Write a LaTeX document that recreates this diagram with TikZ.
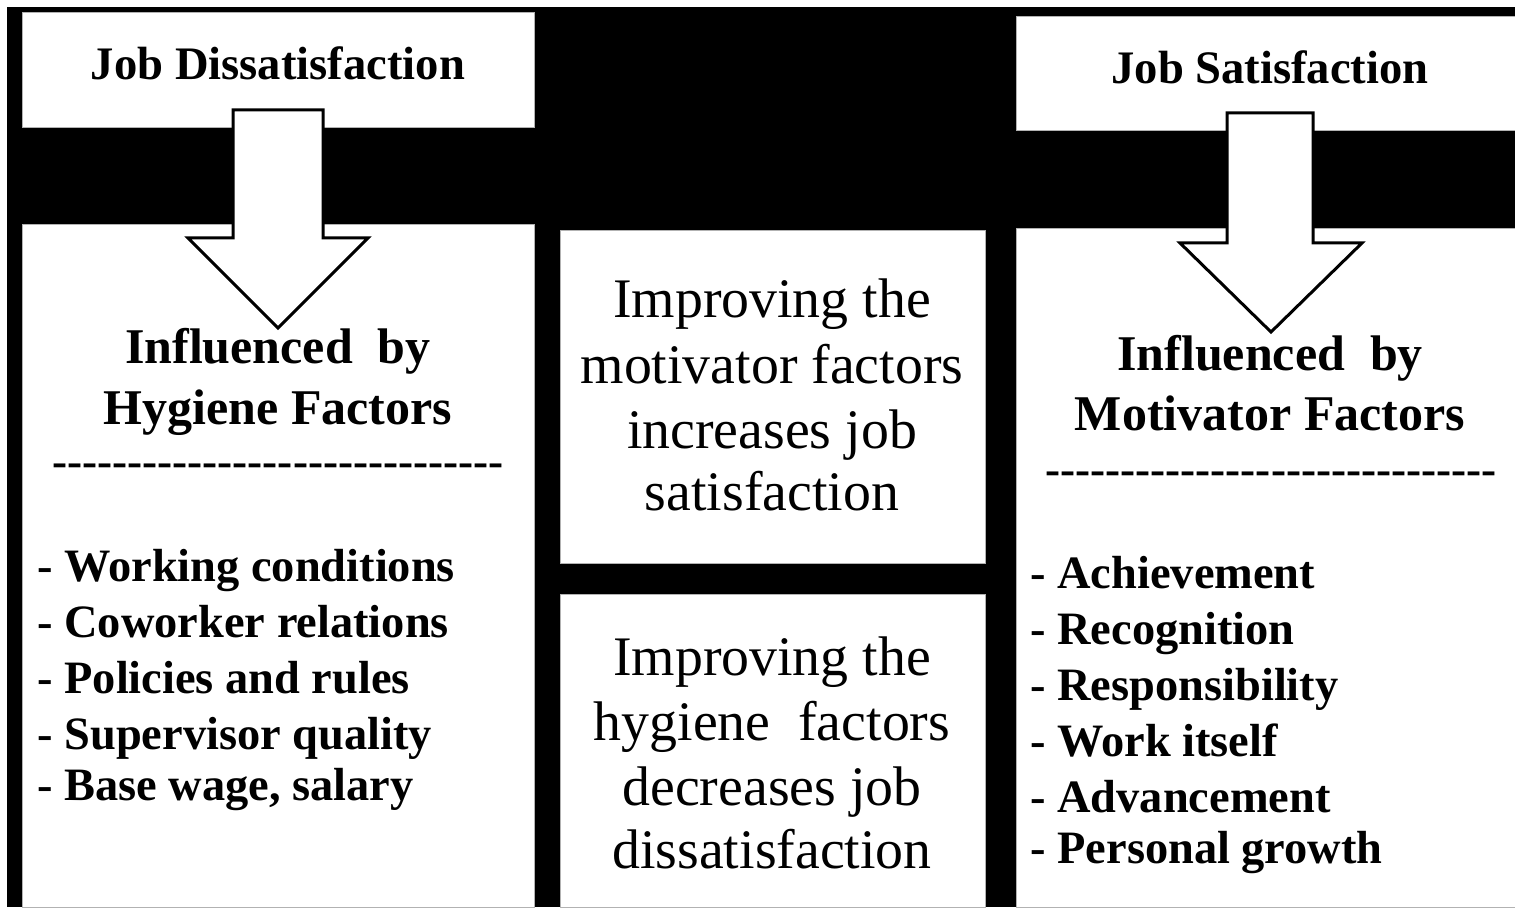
\documentclass[tikz,border=0pt]{standalone}
\usepackage{fontspec}
\setmainfont{Liberation Serif}
\newcommand\hyphenrow{-{}-{}-{}-{}-{}-{}-{}-{}-{}-{}-{}-{}-{}-{}-{}-{}-{}-{}-{}-{}-{}-{}-{}-{}-{}-{}-{}-{}-{}-{}}
\begin{document}
\begin{tikzpicture}[x=0.5pt,y=-0.5pt,
  panel/.style={fill=white,draw=black!30,line width=0.4pt},
  bigarrow/.style={fill=white,draw=black,line width=1.5pt,line join=miter},
  title/.style={font=\fontsize{23.3}{28}\selectfont\bfseries,anchor=base,inner sep=0pt},
  headtxt/.style={font=\fontsize{25}{30}\selectfont\bfseries,anchor=base,inner sep=0pt},
  itemtxt/.style={font=\fontsize{23.2}{28}\selectfont\bfseries,anchor=base west,inner sep=0pt},
  midtxt/.style={font=\fontsize{27.9}{32}\selectfont,anchor=base,inner sep=0pt},
  ruletxt/.style={font=\fontsize{22.6}{28}\selectfont\bfseries,anchor=base,inner sep=0pt}]
\useasboundingbox (0,0) rectangle (1515,909);
\fill[white] (0,0) rectangle (1515,909);
\fill[black] (7,7) rectangle (1515,907);
% panels
\draw[panel] (22,12) rectangle (534,127);
\draw[panel] (22,224) rectangle (534,907);
\draw[panel] (560,230) rectangle (985,563);
\draw[panel] (560,594) rectangle (985,907);
\draw[panel] (1016,16) rectangle (1516,130);
\draw[panel] (1016,228) rectangle (1516,907);
% arrows
\draw[bigarrow] (233,110) -- (323,110) -- (323,238) -- (368,238) -- (278,328) -- (188,238) -- (233,238) -- cycle;
\draw[bigarrow] (1227,113) -- (1313,113) -- (1313,243) -- (1362,243) -- (1271,332) -- (1180,243) -- (1227,243) -- cycle;
% titles
\node[title] (tl) at (278,80) {Job Dissatisfaction};
\node[title] (tr) at (1270,84) {Job Satisfaction};
% headings
\node[headtxt] (hl1) at (278,364) {Influenced\ \ by};
\node[headtxt] (hl2) at (278,424) {Hygiene Factors};
\node[headtxt] (hr1) at (1270,370) {Influenced\ \ by};
\node[headtxt] (hr2) at (1270,430) {Motivator Factors};
% rules
\node[ruletxt] (rl) at (278,476) {\hyphenrow};
\node[ruletxt] (rr) at (1271,484) {\hyphenrow};
% left list
\node[itemtxt] (l1) at (37,581) {- Working conditions};
\node[itemtxt] (l2) at (37,637) {- Coworker relations};
\node[itemtxt] (l3) at (37,693) {- Policies and rules};
\node[itemtxt] (l4) at (37,749) {- Supervisor quality};
\node[itemtxt] (l5) at (37,800) {- Base wage, salary};
% right list
\node[itemtxt] (r1) at (1030,588) {- Achievement};
\node[itemtxt] (r2) at (1030,644) {- Recognition};
\node[itemtxt] (r3) at (1030,700) {- Responsibility};
\node[itemtxt] (r4) at (1030,756) {- Work itself};
\node[itemtxt] (r5) at (1030,812) {- Advancement};
\node[itemtxt] (r6) at (1030,863) {- Personal growth};
% middle texts
\node[midtxt] (m1) at (772,317) {Improving the};
\node[midtxt] (m2) at (772,383) {motivator factors};
\node[midtxt] (m3) at (772,448) {increases job};
\node[midtxt] (m4) at (772,510) {satisfaction};
\node[midtxt] (n1) at (772,675) {Improving the};
\node[midtxt] (n2) at (772,740) {hygiene\ \ factors};
\node[midtxt] (n3) at (772,805) {decreases job};
\node[midtxt] (n4) at (772,868) {dissatisfaction};
\end{tikzpicture}
\end{document}
